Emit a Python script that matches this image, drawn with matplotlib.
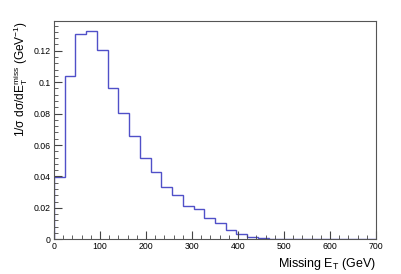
import numpy as np
import matplotlib
matplotlib.use("Agg")
import matplotlib.pyplot as plt
from matplotlib.ticker import MultipleLocator, FuncFormatter

plt.rcParams['font.family'] = ['Liberation Sans', 'DejaVu Sans']
plt.rcParams['mathtext.fontset'] = 'custom'
plt.rcParams['mathtext.rm'] = 'Liberation Sans'
plt.rcParams['mathtext.it'] = 'Liberation Sans:italic'

# missing ET histogram, 30 bins over 0-700 GeV
x_min, x_max, n_bins = 0, 700, 30
bin_values = [0.0398, 0.1038, 0.1307, 0.1324, 0.1205, 0.0966, 0.0801, 0.0658,
              0.0519, 0.0428, 0.0332, 0.0280, 0.0209, 0.0190, 0.0135, 0.0103,
              0.0060, 0.0033, 0.0017, 0.0008, 0.0003, 0.0, 0.0, 0.0,
              0.0, 0.0, 0.0, 0.0, 0.0, 0.0]
y_max = 0.139

edges = np.linspace(x_min, x_max, n_bins + 1)

fig = plt.figure(figsize=(4.02, 2.74), dpi=100)
ax = fig.add_axes([0.1343, 0.1266, 0.801, 0.797])

ax.stairs(bin_values, edges, color="#5050c8", linewidth=1.0)

ax.set_xlim(x_min, x_max)
ax.set_ylim(0, y_max)

ax.xaxis.set_major_locator(MultipleLocator(100))
ax.xaxis.set_minor_locator(MultipleLocator(20))
ax.yaxis.set_major_locator(MultipleLocator(0.02))
ax.yaxis.set_minor_locator(MultipleLocator(0.004))
ax.yaxis.set_major_formatter(FuncFormatter(lambda v, p: f"{v:g}"))

ax.tick_params(which="both", direction="in", top=False, right=False,
               labelsize=6.3, color="#444444")
ax.tick_params(axis="x", which="major", length=5.5, pad=2)
ax.tick_params(axis="x", which="minor", length=3)
ax.tick_params(axis="y", which="major", length=5.5, pad=2.5)
ax.tick_params(axis="y", which="minor", length=3)

for sp in ax.spines.values():
    sp.set_color("#555555")
    sp.set_linewidth(0.8)

ax.set_xlabel(r"Missing E$_{\mathrm{T}}$ (GeV)", fontsize=9, loc="right")
ax.xaxis.set_label_coords(1.0, -0.075)
ax.set_ylabel(r"1/$\mathrm{\sigma}$ d$\mathrm{\sigma}$/dE$_{\mathrm{T}}^{\mathrm{miss}}$ (GeV$^{\mathrm{-1}}$)",
              fontsize=8.6, loc="top")
ax.yaxis.set_label_coords(-0.075, 1.0)

fig.savefig("out.png", dpi=100)
